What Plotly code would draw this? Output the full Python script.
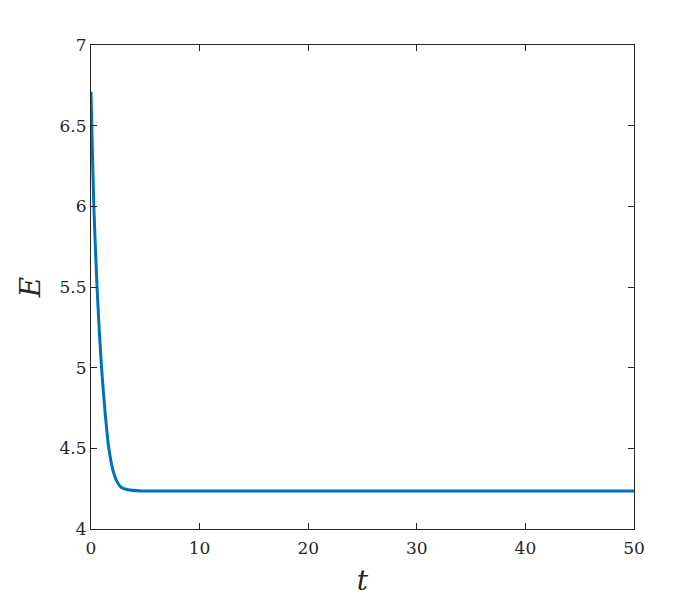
import plotly.graph_objects as go

# Data
t_vals = [0, 0.07, 0.26, 0.53, 0.72, 0.97, 1.3, 1.64, 2.01, 2.32, 2.78, 3.39, 4.63, 10, 20, 30, 40, 50]
E_vals = [6.71, 6.5, 6.0, 5.54, 5.28, 5.0, 4.72, 4.5, 4.367, 4.305, 4.259, 4.243, 4.236,
          4.235, 4.235, 4.235, 4.235, 4.235]

x_ticks = [0, 10, 20, 30, 40, 50]
y_ticks = [4, 4.5, 5, 5.5, 6, 6.5, 7]
y_tick_labels = ["4", "4.5", "5", "5.5", "6", "6.5", "7"]

SERIF = "DejaVu Serif, Liberation Serif, serif"

fig = go.Figure()
fig.add_trace(go.Scatter(
    x=t_vals, y=E_vals, mode="lines",
    line=dict(color="#0072BD", width=3, shape="spline", smoothing=0.5),
    showlegend=False,
))

axis_common = dict(
    showline=True, linecolor="#262626", linewidth=1, mirror="ticks",
    ticks="inside", ticklen=6, tickwidth=1, tickcolor="#262626",
    showgrid=False, zeroline=False,
    tickfont=dict(family=SERIF, size=17, color="#262626"),
)

fig.update_xaxes(
    range=[0, 50], tickvals=x_ticks, ticklabelstandoff=4,
    title=dict(text="<i>t</i>", font=dict(family=SERIF, size=28, color="#262626"), standoff=12),
    **axis_common,
)
fig.update_yaxes(
    range=[4, 7], tickvals=y_ticks, ticktext=y_tick_labels,
    title=dict(text="<i>E</i>", font=dict(family=SERIF, size=28, color="#262626"), standoff=10),
    **axis_common,
)

fig.update_layout(
    width=700, height=600,
    margin=dict(l=83, r=74, t=37, b=79, pad=0),
    paper_bgcolor="white", plot_bgcolor="white",
)

fig.write_html("out.html")
